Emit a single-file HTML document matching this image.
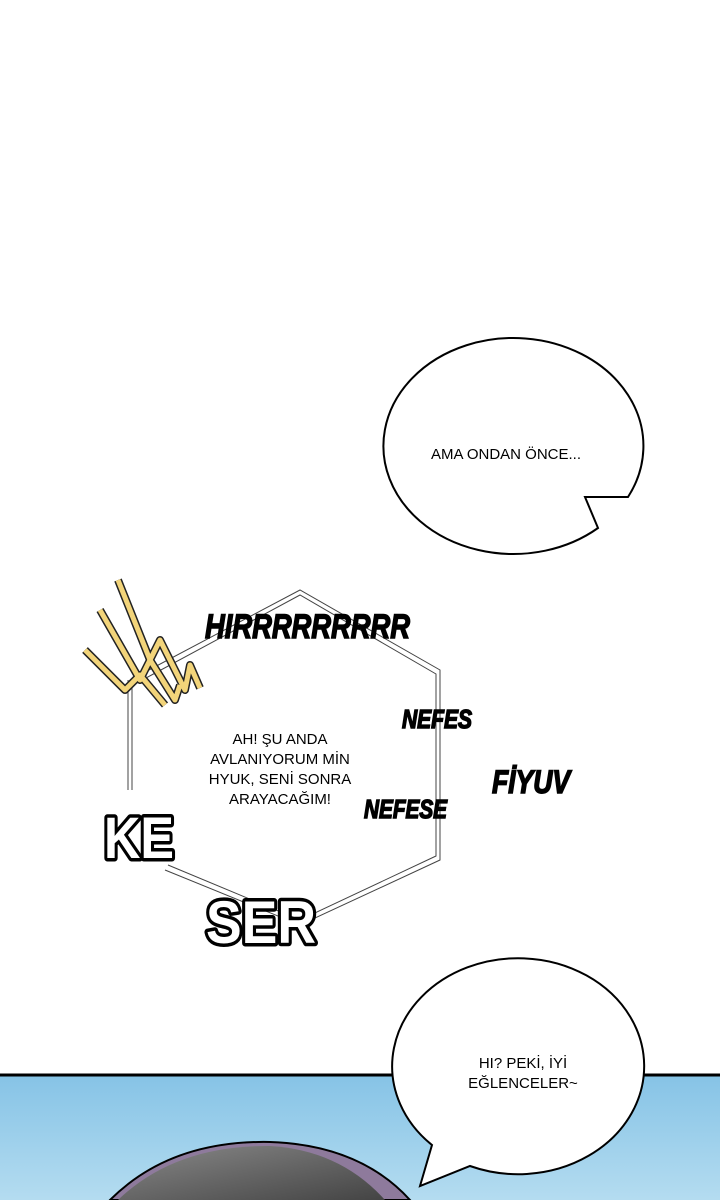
<!DOCTYPE html>
<html><head><style>
body{margin:0;width:720px;height:1200px;overflow:hidden;background:#fff}
svg{display:block}
text{font-family:"Liberation Sans",sans-serif}
</style></head><body>
<svg width="720" height="1200" viewBox="0 0 720 1200">
<defs>
<linearGradient id="sky" x1="0" y1="0" x2="0" y2="1">
<stop offset="0" stop-color="#86c3e6"/><stop offset="1" stop-color="#b4dcf0"/></linearGradient>
<linearGradient id="hair" x1="0" y1="0" x2="1" y2="1">
<stop offset="0" stop-color="#888"/><stop offset="1" stop-color="#444"/></linearGradient>
</defs>
<rect x="0" y="1075" width="720" height="125" fill="url(#sky)"/>
<line x1="0" y1="1075" x2="720" y2="1075" stroke="#000" stroke-width="3"/>
<path d="M110 1200 Q170 1140 270 1142 Q360 1145 410 1200 Z" fill="#8e7a9c" stroke="#000" stroke-width="2"/>
<path d="M118 1200 Q175 1145 270 1146 Q340 1150 385 1200 Z" fill="url(#hair)"/>
<!-- top bubble -->
<path d="M598 528 A130 108 0 1 1 628 497 L585 497 Z" fill="#fff" stroke="#000" stroke-width="2"/>
<text x="506" y="459" font-size="15" text-anchor="middle" fill="#000">AMA ONDAN ÖNCE...</text>
<!-- bottom bubble -->
<path d="M470 1166 A126 108 0 1 0 432 1145 L420 1186 Z" fill="#fff" stroke="#000" stroke-width="2"/>
<text x="523" y="1068" font-size="15" text-anchor="middle">HI? PEKİ, İYİ</text>
<text x="523" y="1088" font-size="15" text-anchor="middle">EĞLENCELER~</text>
<!-- hexagon -->
<g stroke="#444" stroke-width="1" fill="none">
<path d="M130 680 L300 590 L440 670 L440 860 L300 925 L165 870"/>
<path d="M133 685 L300 595 L436 674 L436 856 L300 920 L168 865"/>
<line x1="128" y1="680" x2="128" y2="790"/><line x1="132" y1="680" x2="132" y2="790"/>
</g>
<!-- lightning -->
<g fill="none" stroke="#222" stroke-width="8" stroke-linejoin="round">
<path d="M118 580 L150 660 L160 640 L185 690 L190 665 L200 688"/>
<path d="M100 610 L140 680 L150 660 L175 700 L180 685"/>
<path d="M85 650 L125 690 L140 675 L165 705"/>
</g>
<g fill="none" stroke="#f2d47a" stroke-width="5" stroke-linejoin="round">
<path d="M118 580 L150 660 L160 640 L185 690 L190 665 L200 688"/>
<path d="M100 610 L140 680 L150 660 L175 700 L180 685"/>
<path d="M85 650 L125 690 L140 675 L165 705"/>
</g>
<g font-weight="bold" font-style="italic" fill="#000" stroke="#000" stroke-width="1.5">
<text x="205" y="638" font-size="34" textLength="205" lengthAdjust="spacingAndGlyphs">HIRRRRRRRRR</text>
<text x="402" y="728" font-size="26" textLength="70" lengthAdjust="spacingAndGlyphs">NEFES</text>
<text x="364" y="818" font-size="26" textLength="83" lengthAdjust="spacingAndGlyphs">NEFESE</text>
<text x="492" y="793" font-size="32" textLength="78" lengthAdjust="spacingAndGlyphs">FİYUV</text>
</g>
<g text-anchor="middle" font-size="15">
<text x="280" y="744">AH! ŞU ANDA</text>
<text x="280" y="764">AVLANIYORUM MİN</text>
<text x="280" y="784">HYUK, SENİ SONRA</text>
<text x="280" y="804">ARAYACAĞIM!</text>
</g>
<g font-weight="bold" fill="#fff" stroke="#000" stroke-width="7" paint-order="stroke" stroke-linejoin="round">
<text x="104" y="858" font-size="58" textLength="70" lengthAdjust="spacingAndGlyphs">KE</text>
<text x="206" y="943" font-size="60" textLength="110" lengthAdjust="spacingAndGlyphs">SER</text>
</g>
</svg>
</body></html>
